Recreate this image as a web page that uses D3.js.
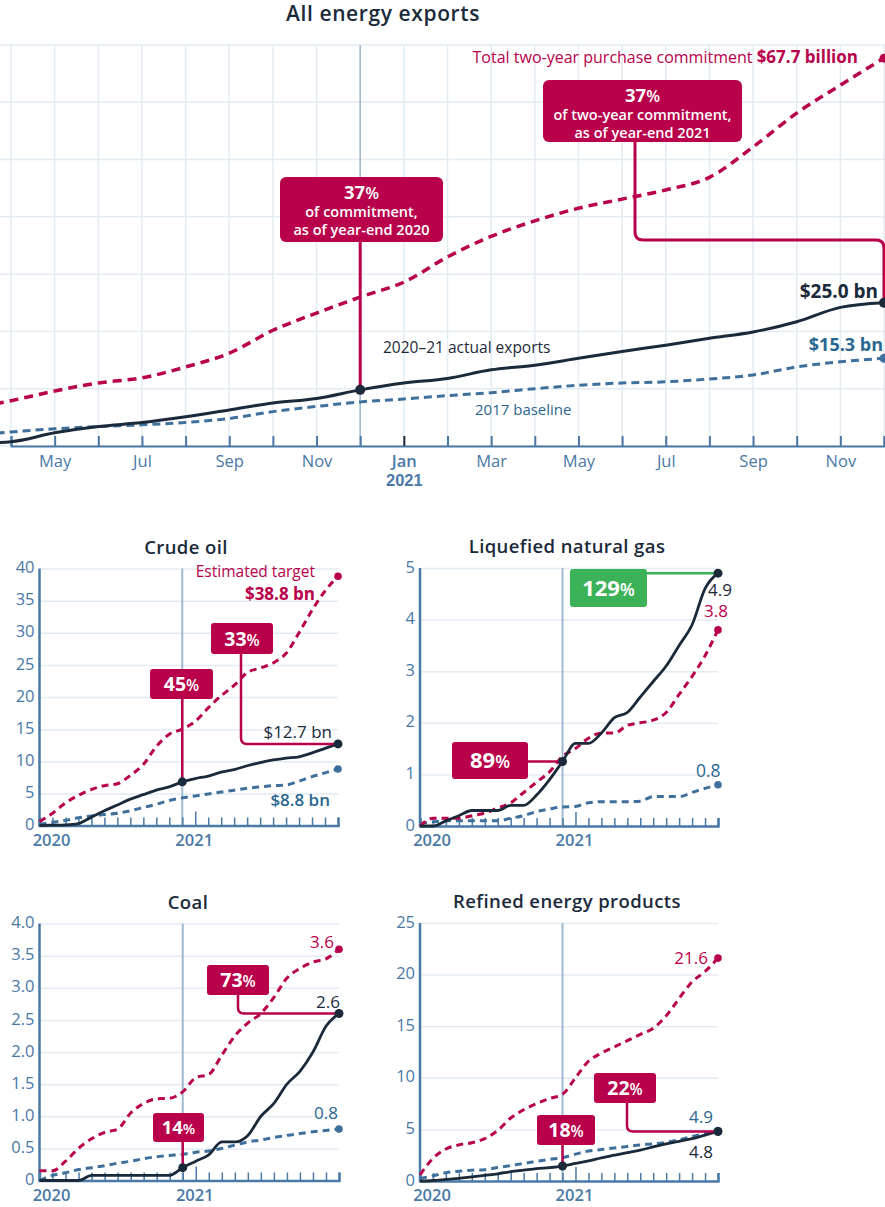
<!DOCTYPE html>
<html>
<head>
<meta charset="utf-8">
<script src="https://cdn.jsdelivr.net/npm/d3@7"></script>
<style>
body { margin: 0; background: #fff; }
svg { display: block; font-family: "Open Sans", sans-serif; }
</style>
</head>
<body>
<svg id="chart" width="885" height="1207"></svg>
<script>
// ---- data: cumulative exports, $bn, Jan 2020 .. Dec 2021 ----
var monthNames = ["Jan", "Feb", "Mar", "Apr", "May", "Jun", "Jul", "Aug", "Sep", "Oct", "Nov", "Dec"];
var months = d3.range(24);

var allActual = [0.1, 0.2, 0.4, 0.75, 2.3, 3.4, 4.1, 5.1, 6.3, 7.5, 8.3, 9.8, 11.0, 11.8, 13.3, 14.1, 15.3, 16.5, 17.6, 18.8, 19.9, 21.7, 24.2, 25.0];
var allTarget = [1.4, 4.2, 6.4, 7.9, 9.6, 11.0, 11.9, 13.8, 16.2, 20.2, 23.2, 26.0, 28.6, 33.0, 36.6, 39.3, 41.5, 43.1, 44.7, 46.9, 52.2, 58.1, 63.0, 67.7];
var allBase = [0.5, 1.2, 1.8, 2.45, 3.0, 3.4, 3.7, 4.1, 4.8, 6.0, 6.9, 7.7, 8.2, 8.8, 9.3, 10.0, 10.6, 11.0, 11.2, 11.7, 12.4, 13.8, 14.7, 15.3];

var crudeActual = [0, 0.05, 0.1, 0.3, 1.3, 2.3, 3.2, 4.1, 4.8, 5.5, 6.0, 6.8, 7.3, 7.7, 8.3, 8.7, 9.3, 9.8, 10.2, 10.5, 10.7, 11.3, 12.0, 12.7];
var crudeTarget = [0.6, 1.9, 3.5, 4.7, 5.6, 6.2, 6.5, 7.8, 9.5, 12.3, 14.2, 15.0, 16.2, 18.3, 20.2, 21.8, 23.8, 24.5, 25.3, 26.8, 30.0, 33.5, 36.5, 38.8];
var crudeBase = [0.2, 0.5, 0.8, 1.2, 1.5, 1.7, 1.9, 2.3, 2.8, 3.3, 3.9, 4.3, 4.6, 4.9, 5.2, 5.5, 5.8, 6.0, 6.2, 6.3, 6.9, 7.6, 8.2, 8.8];

var lngActual = [0, 0, 0.1, 0.2, 0.3, 0.3, 0.3, 0.4, 0.4, 0.6, 0.9, 1.25, 1.6, 1.6, 1.8, 2.1, 2.2, 2.5, 2.8, 3.1, 3.5, 3.9, 4.6, 4.9];
var lngTarget = [0, 0.15, 0.15, 0.15, 0.2, 0.25, 0.35, 0.45, 0.65, 0.85, 1.05, 1.35, 1.5, 1.7, 1.8, 1.8, 1.95, 2.0, 2.05, 2.2, 2.55, 2.9, 3.3, 3.8];
var lngBase = [0.05, 0.08, 0.1, 0.1, 0.1, 0.1, 0.1, 0.15, 0.2, 0.28, 0.33, 0.37, 0.38, 0.45, 0.47, 0.47, 0.47, 0.48, 0.57, 0.57, 0.57, 0.65, 0.73, 0.8];

var coalActual = [0, 0, 0, 0, 0.08, 0.08, 0.08, 0.08, 0.08, 0.08, 0.08, 0.2, 0.3, 0.4, 0.6, 0.6, 0.7, 1.0, 1.2, 1.5, 1.7, 2.0, 2.4, 2.6];
var coalTarget = [0.15, 0.15, 0.3, 0.5, 0.65, 0.75, 0.8, 1.05, 1.2, 1.27, 1.28, 1.38, 1.6, 1.65, 1.95, 2.25, 2.45, 2.6, 2.85, 3.15, 3.3, 3.4, 3.45, 3.6];
var coalBase = [0, 0.08, 0.12, 0.17, 0.2, 0.23, 0.27, 0.3, 0.34, 0.37, 0.39, 0.41, 0.44, 0.46, 0.5, 0.55, 0.6, 0.63, 0.67, 0.7, 0.73, 0.76, 0.78, 0.8];

var refActual = [0, 0.05, 0.15, 0.25, 0.4, 0.55, 0.7, 0.9, 1.05, 1.2, 1.3, 1.45, 1.7, 1.95, 2.25, 2.5, 2.75, 3.0, 3.3, 3.6, 3.85, 4.1, 4.45, 4.8];
var refTarget = [0.6, 2.2, 3.1, 3.5, 3.7, 4.1, 4.9, 6.1, 6.9, 7.5, 8.0, 8.4, 10.0, 11.6, 12.4, 13.0, 13.6, 14.2, 14.8, 16.0, 17.7, 19.3, 20.3, 21.6];
var refBase = [0.25, 0.5, 0.8, 0.95, 1.05, 1.1, 1.3, 1.5, 1.7, 1.9, 2.1, 2.25, 2.6, 2.9, 3.05, 3.2, 3.35, 3.5, 3.6, 3.75, 4.0, 4.3, 4.6, 4.9];

var RED = "#b8004b", NAVY = "#1b2a3a", BLUE = "#3f709c", BLUE_TXT = "#2a6790",
    AXIS = "#4a79a6", GRID = "#e3ebf3", YEAR = "#9fb9d0", GREEN = "#3bb158";

var svg = d3.select("#chart");

// ================= top chart =================
var xTop = d3.scaleLinear().domain([3, 23]).range([11, 884]);
var yTop = d3.scaleLinear().domain([0, 70]).range([446, 45]);

var gTop = svg.append("g");

gTop.append("text").attr("x", 383).attr("y", 21).attr("text-anchor", "middle")
    .attr("font-size", 21).attr("font-weight", 600).attr("letter-spacing", 0.6).attr("fill", NAVY)
    .text("All energy exports");

// grid
gTop.append("g").selectAll("line").data(months).enter().append("line")
    .attr("x1", d => xTop(d)).attr("x2", d => xTop(d))
    .attr("y1", yTop(70)).attr("y2", yTop(0))
    .attr("stroke", GRID).attr("stroke-width", 1.5);
gTop.append("g").selectAll("line").data(d3.range(0, 71, 10)).enter().append("line")
    .attr("x1", 0).attr("x2", 885)
    .attr("y1", d => yTop(d)).attr("y2", d => yTop(d))
    .attr("stroke", GRID).attr("stroke-width", 1.5);

gTop.append("line").attr("x1", xTop(11)).attr("x2", xTop(11))
    .attr("y1", yTop(70)).attr("y2", yTop(0))
    .attr("stroke", YEAR).attr("stroke-width", 1.5);

// x axis (only months that fall inside the picture get a label)
var xAxisTop = d3.axisBottom(xTop).tickValues(months.filter(d => xTop(d) > -5)).tickSize(-10).tickPadding(9)
    .tickFormat(d => d % 2 == 0 && xTop(d) > 20 ? monthNames[d % 12] : "");
var gxt = gTop.append("g").attr("transform", "translate(0," + yTop(0) + ")").call(xAxisTop);
gxt.select(".domain").attr("stroke", AXIS).attr("stroke-width", 2);
gxt.selectAll(".tick line").attr("stroke", d => d == 12 ? NAVY : AXIS).attr("stroke-width", 2);
gxt.selectAll(".tick text").attr("font-size", 16.5).attr("fill", AXIS)
    .attr("font-family", "Open Sans, sans-serif")
    .attr("font-weight", d => d == 12 ? 600 : 400);
gxt.selectAll(".tick").filter(d => d == 12).append("text")
    .attr("y", 40).attr("text-anchor", "middle").attr("font-size", 16.5)
    .attr("font-weight", 600).attr("fill", AXIS).text("2021");

var lineTop = d3.line().x((d, i) => xTop(i)).y(d => yTop(d)).curve(d3.curveMonotoneX);

gTop.append("path").attr("d", lineTop(allBase)).attr("fill", "none")
    .attr("stroke", BLUE).attr("stroke-width", 3).attr("stroke-dasharray", "8,5");
gTop.append("path").attr("d", lineTop(allTarget)).attr("fill", "none")
    .attr("stroke", RED).attr("stroke-width", 3.5).attr("stroke-dasharray", "9,6");
gTop.append("path").attr("d", lineTop(allActual)).attr("fill", "none")
    .attr("stroke", NAVY).attr("stroke-width", 3);

gTop.append("circle").attr("cx", xTop(23)).attr("cy", yTop(allTarget[23])).attr("r", 4.5).attr("fill", RED);
gTop.append("circle").attr("cx", xTop(23)).attr("cy", yTop(allBase[23])).attr("r", 4.5).attr("fill", BLUE);

// labels
var ct = gTop.append("text").attr("x", 858).attr("y", 63).attr("text-anchor", "end").attr("fill", RED);
ct.append("tspan").attr("font-size", 16).text("Total two-year purchase commitment ");
ct.append("tspan").attr("font-size", 17).attr("font-weight", 700).text("$67.7 billion");

gTop.append("text").attr("x", 383).attr("y", 353).attr("font-size", 15.5).attr("fill", NAVY)
    .text("2020–21 actual exports");
gTop.append("text").attr("x", 475).attr("y", 415).attr("font-size", 15).attr("fill", BLUE_TXT)
    .text("2017 baseline");
gTop.append("text").attr("x", 878).attr("y", 298).attr("text-anchor", "end")
    .attr("font-size", 19).attr("font-weight", 700).attr("fill", NAVY).text("$25.0 bn");
gTop.append("text").attr("x", 883).attr("y", 351).attr("text-anchor", "end")
    .attr("font-size", 18).attr("font-weight", 700).attr("fill", BLUE_TXT).text("$15.3 bn");

// callouts
gTop.append("line").attr("x1", xTop(11)).attr("x2", xTop(11))
    .attr("y1", 240).attr("y2", yTop(allActual[11]))
    .attr("stroke", RED).attr("stroke-width", 3);
gTop.append("path")
    .attr("d", "M635,140 V232 Q635,240 643,240 H876 Q884,240 884,248 V" + yTop(allActual[23]))
    .attr("fill", "none").attr("stroke", RED).attr("stroke-width", 3);
gTop.append("circle").attr("cx", xTop(11)).attr("cy", yTop(allActual[11])).attr("r", 5).attr("fill", NAVY);
gTop.append("circle").attr("cx", xTop(23)).attr("cy", yTop(allActual[23])).attr("r", 5).attr("fill", NAVY);

function bigBox(g, x, y, w, h, pct, lines) {
    g.append("rect").attr("x", x).attr("y", y).attr("width", w).attr("height", h)
        .attr("rx", 6).attr("fill", RED);
    var t = g.append("text").attr("x", x + w / 2).attr("y", y + 22).attr("text-anchor", "middle")
        .attr("fill", "#fff");
    t.append("tspan").attr("font-size", 18.5).attr("font-weight", 700).text(pct);
    t.append("tspan").attr("font-size", 16).attr("font-weight", 600).text("%");
    lines.forEach(function (l, i) {
        g.append("text").attr("x", x + w / 2).attr("y", y + 40 + i * 17.5)
            .attr("text-anchor", "middle").attr("font-size", 14.5).attr("font-weight", 600)
            .attr("fill", "#fff").text(l);
    });
}
bigBox(gTop, 280, 177, 163, 65, "37", ["of commitment,", "as of year-end 2020"]);
bigBox(gTop, 543, 80, 199, 62, "37", ["of two-year commitment,", "as of year-end 2021"]);

// ================= small multiples =================
function pctBox(g, x, y, w, h, num, fill, fs) {
    g.append("rect").attr("x", x).attr("y", y).attr("width", w).attr("height", h)
        .attr("rx", 3).attr("fill", fill);
    var t = g.append("text").attr("x", x + w / 2).attr("y", y + h / 2 + fs * 0.36)
        .attr("text-anchor", "middle").attr("fill", "#fff");
    t.append("tspan").attr("font-size", fs).attr("font-weight", 700).text(num);
    t.append("tspan").attr("font-size", fs * 0.78).attr("font-weight", 600).text("%");
}

function small(cfg) {
    var g = svg.append("g");
    var x = d3.scaleLinear().domain([0, 23]).range([cfg.left, cfg.right]);
    var y = d3.scaleLinear().domain([0, cfg.yMax]).range([cfg.bottom, cfg.top]);
    var ticks = d3.range(0, cfg.yMax + cfg.step / 2, cfg.step);

    g.append("text").attr("x", cfg.titleX).attr("y", cfg.top - 15).attr("text-anchor", "middle")
        .attr("font-size", 18.5).attr("font-weight", 600).attr("letter-spacing", 0.4)
        .attr("fill", NAVY).text(cfg.title);

    var gy = g.append("g").attr("transform", "translate(" + cfg.left + ",0)")
        .call(d3.axisLeft(y).tickValues(ticks).tickSize(-(cfg.right - cfg.left)).tickPadding(5)
            .tickFormat(cfg.fmt));
    gy.select(".domain").remove();
    gy.selectAll(".tick line").attr("stroke", GRID).attr("stroke-width", 1.5);
    gy.selectAll(".tick text").attr("font-size", 16.5).attr("fill", AXIS)
        .attr("font-family", "Open Sans, sans-serif").attr("dy", "0.25em");

    g.append("line").attr("x1", x(11)).attr("x2", x(11)).attr("y1", cfg.top).attr("y2", cfg.bottom)
        .attr("stroke", YEAR).attr("stroke-width", 2);

    var gx = g.append("g").attr("transform", "translate(0," + cfg.bottom + ")")
        .call(d3.axisBottom(x).tickValues(months).tickSize(-8).tickFormat(""));
    gx.select(".domain").attr("stroke", AXIS).attr("stroke-width", 2.5);
    gx.selectAll(".tick line").attr("stroke", AXIS).attr("stroke-width", 1.5)
        .attr("y2", d => d == 12 ? -14 : -8);
    g.append("line").attr("x1", cfg.left).attr("x2", cfg.left).attr("y1", cfg.top).attr("y2", cfg.bottom + 1)
        .attr("stroke", AXIS).attr("stroke-width", 2.5);
    g.append("text").attr("x", x(0) + 12).attr("y", cfg.bottom + 20).attr("text-anchor", "middle")
        .attr("font-size", 16.5).attr("font-weight", 600).attr("fill", AXIS).text("2020");
    g.append("text").attr("x", x(12) - 1).attr("y", cfg.bottom + 20).attr("text-anchor", "middle")
        .attr("font-size", 16.5).attr("font-weight", 600).attr("fill", AXIS).text("2021");

    var line = d3.line().x((d, i) => x(i)).y(d => y(d)).curve(d3.curveMonotoneX);
    g.append("path").attr("d", line(cfg.base)).attr("fill", "none")
        .attr("stroke", BLUE).attr("stroke-width", 3).attr("stroke-dasharray", "7,5");
    g.append("path").attr("d", line(cfg.target)).attr("fill", "none")
        .attr("stroke", RED).attr("stroke-width", 3).attr("stroke-dasharray", "7,5");
    g.append("path").attr("d", line(cfg.actual)).attr("fill", "none")
        .attr("stroke", NAVY).attr("stroke-width", 2.8);

    g.append("circle").attr("cx", x(23)).attr("cy", y(cfg.target[23])).attr("r", 3.8).attr("fill", RED);
    g.append("circle").attr("cx", x(23)).attr("cy", y(cfg.base[23])).attr("r", 3.8).attr("fill", BLUE);

    return { g: g, x: x, y: y };
}

function conn(g, d, color) {
    g.append("path").attr("d", d).attr("fill", "none").attr("stroke", color || RED).attr("stroke-width", 2.5);
}
function dot(c, i, v) {
    c.g.append("circle").attr("cx", c.x(i)).attr("cy", c.y(v)).attr("r", 4.5).attr("fill", NAVY);
}
function label(g, x, y, txt, color, size, weight, anchor) {
    g.append("text").attr("x", x).attr("y", y).attr("text-anchor", anchor || "end")
        .attr("font-size", size).attr("font-weight", weight || 400).attr("fill", color).text(txt);
}

// Crude oil
var crude = small({ title: "Crude oil", titleX: 186, left: 39.5, right: 338, top: 568.5, bottom: 825.5,
    yMax: 40, step: 5, fmt: d3.format("d"), actual: crudeActual, target: crudeTarget, base: crudeBase });
conn(crude.g, "M" + crude.x(11) + ",690 V" + crude.y(crudeActual[11]));
conn(crude.g, "M241,650 V" + (crude.y(12.7) - 6) + " Q241," + crude.y(12.7) + " 247," + crude.y(12.7) + " H" + crude.x(23));
pctBox(crude.g, 150, 669, 63, 30, "45", RED, 19.5);
pctBox(crude.g, 211, 623, 62, 31, "33", RED, 19.5);
dot(crude, 11, crudeActual[11]); dot(crude, 23, crudeActual[23]);
label(crude.g, 315, 577, "Estimated target", RED, 15.5);
label(crude.g, 315, 600, "$38.8 bn", RED, 17, 700);
label(crude.g, 332, 738, "$12.7 bn", NAVY, 17);
label(crude.g, 330, 806, "$8.8 bn", BLUE_TXT, 17, 600);

// LNG
var lng = small({ title: "Liquefied natural gas", titleX: 567, left: 420, right: 718, top: 568, bottom: 826,
    yMax: 5, step: 1, fmt: d3.format("d"), actual: lngActual, target: lngTarget, base: lngBase });
conn(lng.g, "M620," + lng.y(4.9) + " H" + lng.x(23), GREEN);
conn(lng.g, "M500," + lng.y(lngActual[11]) + " H" + lng.x(11));
pctBox(lng.g, 570, 569, 77, 38, "129", GREEN, 22);
pctBox(lng.g, 452, 742, 76, 37, "89", RED, 22);
dot(lng, 11, lngActual[11]); dot(lng, 23, lngActual[23]);
label(lng.g, 708, 596, "4.9", NAVY, 17, 400, "start");
label(lng.g, 704, 617, "3.8", RED, 17, 400, "start");
label(lng.g, 696, 777, "0.8", BLUE_TXT, 17.5, 400, "start");

// Coal
var coal = small({ title: "Coal", titleX: 188, left: 39.5, right: 339, top: 923.5, bottom: 1180.5,
    yMax: 4, step: 0.5, fmt: d => d == 0 ? "0" : d3.format(".1f")(d),
    actual: coalActual, target: coalTarget, base: coalBase });
conn(coal.g, "M238,990 V" + (coal.y(2.6) - 6) + " Q238," + coal.y(2.6) + " 244," + coal.y(2.6) + " H" + coal.x(23));
conn(coal.g, "M" + coal.x(11) + ",1138 V" + coal.y(coalActual[11]));
pctBox(coal.g, 207, 965, 62, 30, "73", RED, 19.5);
pctBox(coal.g, 153, 1113, 51, 29, "14", RED, 18.5);
dot(coal, 11, coalActual[11]); dot(coal, 23, coalActual[23]);
label(coal.g, 334, 948, "3.6", RED, 17);
label(coal.g, 340, 1008, "2.6", NAVY, 17);
label(coal.g, 338, 1119, "0.8", BLUE_TXT, 17);

// Refined products
var ref = small({ title: "Refined energy products", titleX: 567, left: 420, right: 718, top: 923, bottom: 1181,
    yMax: 25, step: 5, fmt: d3.format("d"), actual: refActual, target: refTarget, base: refBase });
conn(ref.g, "M627,1100 V" + (ref.y(4.8) - 6) + " Q627," + ref.y(4.8) + " 633," + ref.y(4.8) + " H" + ref.x(23));
conn(ref.g, "M" + ref.x(11) + ",1140 V" + ref.y(refActual[11]));
pctBox(ref.g, 594, 1073, 62, 30, "22", RED, 19.5);
pctBox(ref.g, 537, 1115, 58, 30, "18", RED, 19.5);
dot(ref, 11, refActual[11]); dot(ref, 23, refActual[23]);
label(ref.g, 708, 964, "21.6", RED, 17);
label(ref.g, 713, 1123, "4.9", BLUE_TXT, 17);
label(ref.g, 713, 1158, "4.8", NAVY, 17);
</script>
</body>
</html>
